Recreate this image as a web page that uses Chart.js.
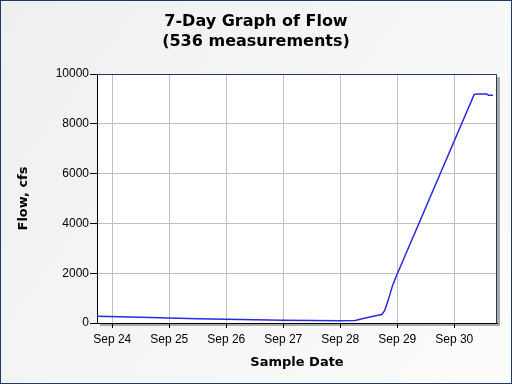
<!DOCTYPE html>
<html>
<head>
<meta charset="utf-8">
<script src="https://cdn.jsdelivr.net/npm/chart.js@4"></script>
<style>
  html, body { margin: 0; padding: 0; background: #f5f5f5; }
  #wrap { width: 512px; height: 384px; }
</style>
</head>
<body>
<div id="wrap"><canvas id="flowChart" width="512" height="384"></canvas></div>
<script>
// days after Sep 24 00:00, and flow in cfs
const dayOffsets = [-0.27, 0.5, 1.0, 1.5, 2.0, 3.0, 4.0, 4.26, 4.40, 4.58, 4.73, 4.78, 4.84, 4.92, 4.99, 6.35, 6.40, 6.57, 6.60, 6.68];
const flowValues = [270, 235, 200, 175, 150, 110, 90, 100, 180, 270, 340, 510, 910, 1520, 1920, 9180, 9200, 9200, 9150, 9150];

const tickDays = [0, 1, 2, 3, 4, 5, 6];
const tickLabels = ["Sep 24", "Sep 25", "Sep 26", "Sep 27", "Sep 28", "Sep 29", "Sep 30"];
const titleLines = ["7-Day Graph of Flow", "(536 measurements)"];

const NAVY = "#1f3a62";

// background, frame and plot panel
const framePlugin = {
  id: "frame",
  beforeDraw(chart) {
    const { ctx, chartArea: a, width, height } = chart;
    ctx.save();
    const g = ctx.createLinearGradient(0, 0, width, height);
    g.addColorStop(0, "#efefef");
    g.addColorStop(1, "#fcfcfc");
    ctx.fillStyle = g;
    ctx.fillRect(0, 0, width, height);
    ctx.strokeStyle = NAVY;
    ctx.lineWidth = 2;
    ctx.strokeRect(0, 0, width, height);
    // drop shadow
    ctx.fillStyle = "#a9a9a9";
    ctx.fillRect(a.left + 3, a.top + 3, a.right - a.left, a.bottom - a.top);
    ctx.fillStyle = "#ffffff";
    ctx.fillRect(a.left, a.top, a.right - a.left, a.bottom - a.top);
    ctx.restore();
  },
  beforeDatasetsDraw(chart) {
    const { ctx, chartArea: a } = chart;
    ctx.save();
    ctx.strokeStyle = NAVY;
    ctx.lineWidth = 1;
    ctx.beginPath();
    ctx.moveTo(a.left, a.top + 0.5);
    ctx.lineTo(a.right - 0.5, a.top + 0.5);
    ctx.lineTo(a.right - 0.5, a.bottom);
    ctx.stroke();
    ctx.restore();
  },
};

const ctx = document.getElementById("flowChart").getContext("2d");
new Chart(ctx, {
  type: "line",
  data: {
    datasets: [
      {
        label: "Flow",
        data: dayOffsets.map((d, i) => ({ x: d, y: flowValues[i] })),
        borderColor: "#2a2ae4",
        borderWidth: 1.5,
        pointRadius: 0,
        tension: 0,
        fill: false,
      },
    ],
  },
  options: {
    responsive: false,
    animation: false,
    layout: { padding: { top: 0, right: 15, bottom: 0, left: 15 } },
    plugins: {
      legend: { display: false },
      tooltip: { enabled: false },
      title: {
        display: true,
        text: titleLines,
        color: "#000",
        font: { family: "DejaVu Sans", size: 16, weight: "bold", lineHeight: 1.25 },
        padding: { top: 12, bottom: 22 },
      },
    },
    scales: {
      x: {
        type: "linear",
        min: -0.268,
        max: 6.75,
        afterBuildTicks(scale) {
          scale.ticks = tickDays.map((v) => ({ value: v }));
        },
        afterFit(scale) {
          scale.height = 61;
        },
        ticks: {
          autoSkip: false,
          maxRotation: 0,
          padding: 4,
          color: "#000",
          font: { family: "Liberation Sans", size: 12 },
          callback: (value) => tickLabels[tickDays.indexOf(value)],
        },
        grid: { color: "#c0c0c0", tickColor: "#000", tickLength: 5, lineWidth: 1 },
        border: { color: "#000", width: 1 },
        title: {
          display: true,
          text: "Sample Date",
          color: "#000",
          font: { family: "DejaVu Sans", size: 13, weight: "bold" },
          padding: { top: 0, bottom: 14 },
        },
      },
      y: {
        min: 0,
        max: 10000,
        afterFit(scale) {
          scale.width = 82;
        },
        ticks: {
          stepSize: 2000,
          padding: 1,
          color: "#000",
          font: { family: "Liberation Sans", size: 12 },
          callback: (value) => String(value),
        },
        grid: { color: "#c0c0c0", tickColor: "#000", tickLength: 7, lineWidth: 1 },
        border: { color: "#000", width: 1 },
        title: {
          display: true,
          text: "Flow, cfs",
          color: "#000",
          font: { family: "DejaVu Sans", size: 13, weight: "bold" },
          padding: { top: 1, bottom: 0 },
        },
      },
    },
  },
  plugins: [framePlugin],
});
</script>
</body>
</html>
